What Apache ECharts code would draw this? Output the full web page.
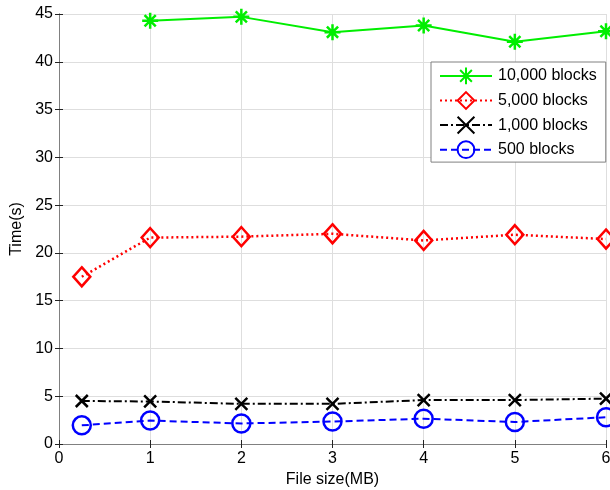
<!DOCTYPE html>
<html><head><meta charset="utf-8">
<script src="https://cdn.jsdelivr.net/npm/echarts@6/dist/echarts.min.js"></script>
<style>html,body{margin:0;padding:0;background:#fff}#c{width:610px;height:490px}</style>
</head><body><div id="c"></div>
<script>
const xValues = [0.25, 1, 2, 3, 4, 5, 6];
const blocks10000 = [null, 44.3, 44.7, 43.1, 43.8, 42.1, 43.2];
const blocks5000 = [17.5, 21.6, 21.7, 22.0, 21.3, 21.9, 21.45];
const blocks1000 = [4.5, 4.45, 4.2, 4.2, 4.6, 4.6, 4.75];
const blocks500 = [1.95, 2.45, 2.15, 2.35, 2.65, 2.3, 2.8];
const seriesNames = ['10,000 blocks', '5,000 blocks', '1,000 blocks', '500 blocks'];

const pair = arr => xValues.map((x, i) => [x, arr[i]]).filter(p => p[1] !== null);
const font = 'Liberation Sans, Arial, sans-serif';
const asterisk = 'path://M10,0 L10,20 M0,10 L20,10 M3,3 L17,17 M3,17 L17,3';
const cross = 'path://M0,0 L20,20 M0,20 L20,0';
const axisLine = {show: true, lineStyle: {color: '#808080', width: 1}};
const tick = {show: true, inside: true, length: 4, lineStyle: {color: '#222'}};

const chart = echarts.init(document.getElementById('c'), null, {renderer: 'canvas'});
chart.setOption({
  animation: false,
  backgroundColor: '#fff',
  grid: {left: 59, right: 4, top: 14, bottom: 46, containLabel: false, outerBoundsMode: 'none'},
  xAxis: [{
    type: 'value', min: 0, max: 6, interval: 1,
    name: 'File size(MB)', nameLocation: 'middle', nameGap: 26,
    nameTextStyle: {fontFamily: font, fontSize: 16, color: '#000'},
    axisLine: axisLine, axisTick: tick,
    axisLabel: {fontFamily: font, fontSize: 16, color: '#000', margin: 7},
    splitLine: {show: true, lineStyle: {color: '#dedede', width: 1}}
  }, {
    type: 'value', min: 0, max: 6, interval: 1, position: 'top',
    axisLine: axisLine, axisTick: tick, axisLabel: {show: false}, splitLine: {show: false}
  }],
  yAxis: [{
    type: 'value', min: 0, max: 45, interval: 5,
    name: 'Time(s)', nameLocation: 'middle', nameGap: 34,
    nameTextStyle: {fontFamily: font, fontSize: 16, color: '#000'},
    axisLine: axisLine, axisTick: tick,
    axisLabel: {fontFamily: font, fontSize: 16, color: '#000', margin: 6},
    splitLine: {show: true, lineStyle: {color: '#dedede', width: 1}}
  }, {
    type: 'value', min: 0, max: 45, interval: 5, position: 'right',
    axisLine: axisLine, axisTick: tick, axisLabel: {show: false}, splitLine: {show: false}
  }],
  legend: {
    left: 431, top: 62, orient: 'vertical',
    itemWidth: 52, itemHeight: 21, itemGap: 4.3,
    padding: [3, 9, 3, 8],
    backgroundColor: '#fff', borderColor: '#808080', borderWidth: 1,
    textStyle: {fontFamily: font, fontSize: 16, color: '#000', padding: [0, 0, 0, 1]},
    data: seriesNames
  },
  series: [
    {name: seriesNames[0], type: 'line', data: pair(blocks10000), clip: false,
     symbol: asterisk, symbolSize: 16,
     lineStyle: {color: '#00ee00', width: 2, type: 'solid'},
     itemStyle: {color: 'none', borderColor: '#00ee00', borderWidth: 2.5}},
    {name: seriesNames[1], type: 'line', data: pair(blocks5000), clip: false,
     symbol: 'diamond', symbolSize: [17, 19],
     lineStyle: {color: '#ff0000', width: 2.5, type: [2, 3]},
     itemStyle: {color: 'rgba(255,255,255,0)', borderColor: '#ff0000', borderWidth: 2.5}},
    {name: seriesNames[2], type: 'line', data: pair(blocks1000), clip: false,
     symbol: cross, symbolSize: 12,
     lineStyle: {color: '#000', width: 2, type: [8, 3, 2, 3]},
     itemStyle: {color: 'none', borderColor: '#000', borderWidth: 2.5}},
    {name: seriesNames[3], type: 'line', data: pair(blocks500), clip: false,
     symbol: 'circle', symbolSize: 18,
     lineStyle: {color: '#0000ff', width: 2, type: [7, 4]},
     itemStyle: {color: 'rgba(255,255,255,0)', borderColor: '#0000ff', borderWidth: 2.5}}
  ]
});
</script>
</body></html>
